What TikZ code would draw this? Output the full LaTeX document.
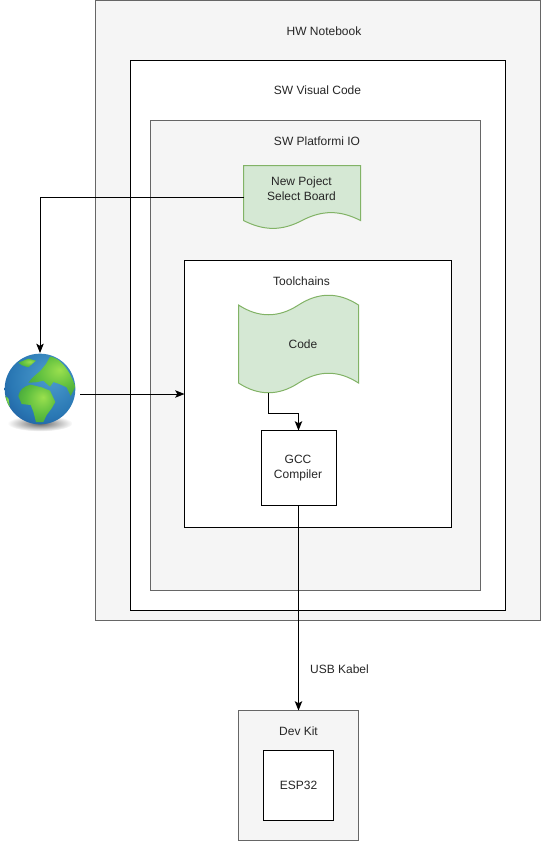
\documentclass[tikz,border=0pt]{standalone}
\usepackage{fontspec}
\setmainfont{Liberation Sans}
\usetikzlibrary{arrows.meta, positioning}
\definecolor{boxgrey}{HTML}{F5F5F5}
\definecolor{boxline}{HTML}{666666}
\definecolor{docfill}{HTML}{D5E8D4}
\definecolor{docline}{HTML}{82B366}
\definecolor{seaA}{HTML}{4F9FD0}
\definecolor{seaB}{HTML}{2A78B4}
\definecolor{seaC}{HTML}{14468F}
\definecolor{landA}{HTML}{9BE04E}
\definecolor{landB}{HTML}{5FBF3F}
\definecolor{landC}{HTML}{2F8F3A}
\pgfdeclareradialshading{earthball}{\pgfpoint{.3cm}{.4cm}}{%
  color(0cm)=(seaA);
  color(.9cm)=(seaB);
  color(1.6cm)=(seaC);
  color(2cm)=(seaC)}
\pgfdeclareradialshading{earthland}{\pgfpoint{.3cm}{.3cm}}{%
  color(0cm)=(landA);
  color(.7cm)=(landB);
  color(1.6cm)=(landC);
  color(2cm)=(landC)}
\def\px{.75pt}
\tikzset{
  gn/.style={draw=boxline,fill=boxgrey,line width=\px,inner sep=0,outer sep=0},
  wn/.style={draw=black,fill=white,line width=\px,inner sep=0,outer sep=0},
  dn/.style={draw=docline,fill=docfill,line width=\px},
  txt/.style={font=\fontsize{9}{11.25}\selectfont,text=black!85,align=center,inner sep=0},
  to/.style={-{Stealth[length=7pt,width=5.6pt,inset=1.6pt]},line width=\px},
}
\begin{document}
\begin{tikzpicture}[x=.75pt,y=-.75pt]
    \useasboundingbox (0,0) rectangle (541,842);

    % boxes
    \node [gn,minimum width=445*\px,minimum height=620*\px] (notebook) at (318,310.5) {};
    \node [wn,minimum width=375*\px,minimum height=550*\px] (vscode) at (318,335.5) {};
    \node [gn,minimum width=330*\px,minimum height=470*\px] (platformio) at (315.5,355.5) {};
    \node [wn,minimum width=267*\px,minimum height=267*\px] (toolchains) at (318,394) {};
    \node [wn,minimum width=75*\px,minimum height=75*\px] (gcc) at (298.5,468) {};
    \node [gn,minimum width=120*\px,minimum height=130*\px] (devkit) at (298.5,775.5) {};
    \node [wn,minimum width=70*\px,minimum height=70*\px] (esp) at (298.5,785.5) {};

    % green sheets
    \draw [dn] (243.5,165.5) -- (360.5,165.5) -- (360.5,220.5)
      .. controls (340,210) and (322,210) .. (302,220.5)
      .. controls (282,231) and (264,231) .. (243.5,220.5) -- cycle;
    \draw [dn] (238.5,305) .. controls (258.5,318) and (278.5,318) .. (298.5,305)
      .. controls (318.5,292) and (338.5,292) .. (358.5,305) -- (358.5,383)
      .. controls (338.5,370) and (318.5,370) .. (298.5,383)
      .. controls (278.5,396) and (258.5,396) .. (238.5,383) -- cycle;
    \node [minimum width=117*\px,minimum height=64*\px,inner sep=0,outer sep=0] (newproject) at (302,197.5) {};
    \node [minimum width=120*\px,minimum height=98*\px,inner sep=0,outer sep=0] (code) at (298.5,344.5) {};
    \coordinate (codeout) at (268,393);

    % globe
    \node [minimum width=80*\px,minimum height=82*\px,inner sep=0,outer sep=0] (globe) at (40,394) {};
    \begin{scope}[shift={(0,340)},scale=1/3]
      \shade [inner color=black!60,outer color=white] (120,250) ellipse (98 and 24);
      \begin{scope}
        \clip (120,147) circle (106);
        \shade [shading=earthball] (120,147) circle (106);
        \shade [shading=earthland] (85,128) .. controls (95,112) and (115,100) .. (125,88)
          -- (138,72) -- (150,50) .. controls (175,52) and (205,80) .. (226,140)
          -- (212,168) -- (200,142) -- (178,132) -- (160,126) -- (150,140) -- (130,122) -- (108,127) -- cycle;
        \shade [shading=earthland] (55,168) .. controls (58,150) and (72,138) .. (92,134)
          -- (125,142) -- (150,152) -- (166,186) -- (155,205) -- (140,225) -- (130,246) -- (108,246)
          -- (100,215) -- (92,195) -- (65,192) -- cycle;
        \shade [shading=earthland] (55,68) -- (85,56) -- (108,62) -- (85,82) -- (66,76) -- cycle;
        \shade [shading=earthland] (13,165) -- (25,175) -- (30,200) -- (18,190) -- cycle;
      \end{scope}
    \end{scope}

    % labels
    \node [txt] (lnotebook) at (324,31) {HW Notebook};
    \node [txt] (lvscode) at (317.5,90.5) {SW Visual Code};
    \node [txt] (lplatformio) at (317,141) {SW Platformi IO};
    \node [txt] (lnewproject) at (301.5,189) {New Poject\\Select Board};
    \node [txt] (ltoolchains) at (301.5,281) {Toolchains};
    \node [txt] (lcode) at (303,344.5) {Code};
    \node [txt] (lgcc) at (298,468.5) {GCC\\Compiler};
    \node [txt] (ldevkit) at (298.5,731) {Dev Kit};
    \node [txt] (lesp) at (298.5,785.5) {ESP32};
    \node [txt] (lusb) at (339.5,669.5) {USB Kabel};

    % connectors
    \draw [to] (newproject.west) -| (globe.north);
    \draw [to] (globe.east) -- (toolchains.west);
    \draw [to] (codeout) -- ++(0,20) -| (gcc.north);
    \draw [to] (gcc.south) -- (devkit.north);
\end{tikzpicture}
\end{document}
